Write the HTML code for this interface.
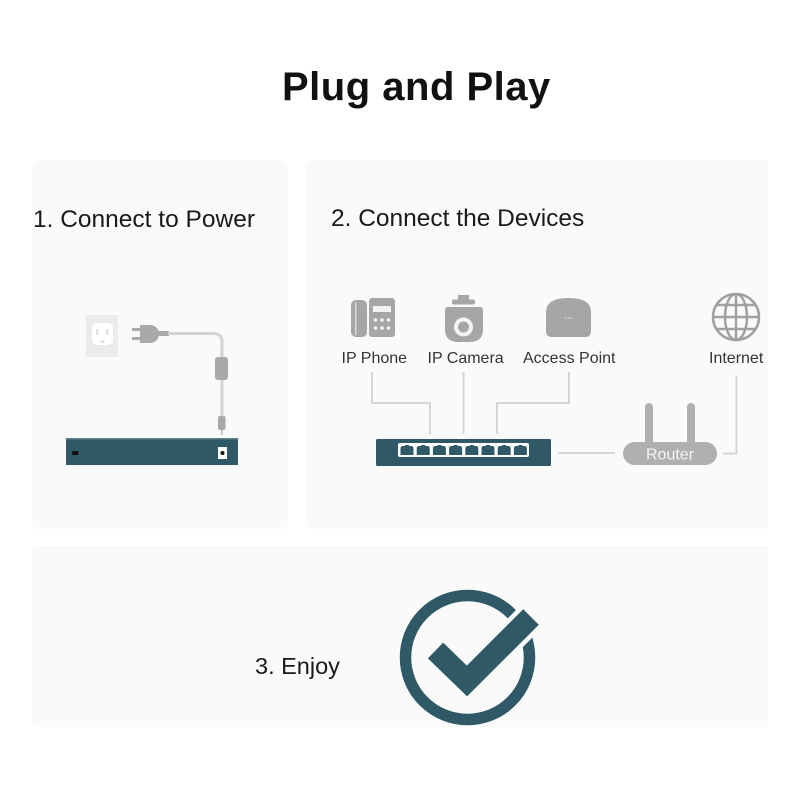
<!DOCTYPE html>
<html>
<head>
<meta charset="utf-8">
<style>
  html, body { margin: 0; padding: 0; background: #ffffff; }
  body { width: 800px; height: 800px; overflow: hidden; }
  svg { display: block; }
  text { font-family: "Liberation Sans", sans-serif; }
</style>
</head>
<body>
<svg width="800" height="800" viewBox="0 0 800 800" xmlns="http://www.w3.org/2000/svg">
  <rect x="0" y="0" width="800" height="800" fill="#ffffff"/>

  <!-- Title -->
  <text x="282" y="100" font-size="40" font-weight="bold" fill="#111" letter-spacing="0.5">Plug and Play</text>

  <!-- Panels -->
  <rect x="32" y="160" width="256" height="369" rx="8" fill="#fafafa"/>
  <rect x="305" y="160" width="470" height="369" rx="8" fill="#fafafa"/>
  <rect x="32" y="546" width="743" height="181" rx="4" fill="#fafafa"/>
  <rect x="768" y="150" width="40" height="600" fill="#ffffff"/>

  <!-- Step labels -->
  <text x="33" y="227" font-size="24.5" fill="#1a1a1a">1. Connect to Power</text>
  <text x="331" y="226" font-size="24.5" fill="#1a1a1a">2. Connect the Devices</text>
  <text x="255" y="674" font-size="23.5" fill="#1a1a1a">3. Enjoy</text>

  <!-- ===== Panel 1: power ===== -->
  <rect x="86" y="315" width="32" height="42" fill="#ebebeb"/>
  <rect x="92" y="323" width="21" height="22" rx="5" fill="#ffffff"/>
  <rect x="96" y="329" width="2.5" height="6" fill="#e2e2e2"/>
  <rect x="106" y="329" width="2.5" height="6" fill="#e2e2e2"/>
  <path d="M100.5 342 a2 2 0 0 1 4 0 v1 h-4 z" fill="#e2e2e2"/>
  <rect x="132" y="328" width="10" height="3" fill="#a9a9a9"/>
  <rect x="132" y="337" width="10" height="3" fill="#a9a9a9"/>
  <path d="M140 325 H150 A9 9 0 0 1 150 343 H140 Z" fill="#a9a9a9"/>
  <rect x="155" y="331" width="14" height="5" fill="#a9a9a9"/>
  <path d="M168 333.5 H213 Q222 333.5 222 342 V360" fill="none" stroke="#d3d3d3" stroke-width="3"/>
  <rect x="215" y="357" width="13" height="23" rx="3" fill="#a9a9a9"/>
  <path d="M222 380 V418" fill="none" stroke="#d3d3d3" stroke-width="3"/>
  <rect x="218" y="416" width="7.5" height="14" rx="2" fill="#a9a9a9"/>
  <rect x="221" y="430" width="2" height="5" fill="#c8c8c8"/>
  <rect x="66" y="438" width="172" height="27" fill="#2f5966"/>
  <rect x="66" y="438" width="172" height="1.5" fill="#5e808b"/>
  <rect x="72" y="451" width="6.5" height="4" rx="1" fill="#111"/>
  <rect x="218" y="447" width="9" height="12" fill="#ffffff"/>
  <circle cx="222.5" cy="453" r="2" fill="#111"/>

  <!-- ===== Panel 2: devices ===== -->
  <g fill="none" stroke="#d6d6d6" stroke-width="2">
    <path d="M372 372 V403 H430 V434"/>
    <path d="M463.5 372 V434"/>
    <path d="M569 372 V403 H497 V434"/>
    <path d="M558 453 H615"/>
    <path d="M723 453.5 H736.5 V376"/>
  </g>

  <!-- IP Phone icon -->
  <rect x="351" y="300" width="16" height="37" rx="5" fill="#a6a6a6"/>
  <rect x="355" y="302" width="1.5" height="33" fill="#d8d8d8"/>
  <rect x="369" y="298" width="26" height="39" rx="3" fill="#a6a6a6"/>
  <rect x="373" y="306" width="18" height="6" fill="#f3f3f3"/>
  <g fill="#f3f3f3">
    <circle cx="375.5" cy="320" r="1.8"/><circle cx="382" cy="320" r="1.8"/><circle cx="388.5" cy="320" r="1.8"/>
    <circle cx="375.5" cy="328" r="1.8"/><circle cx="382" cy="328" r="1.8"/><circle cx="388.5" cy="328" r="1.8"/>
  </g>

  <!-- IP Camera icon -->
  <rect x="458" y="295" width="11" height="6" fill="#a6a6a6"/>
  <rect x="452" y="299.5" width="23" height="5" rx="2" fill="#a6a6a6"/>
  <path d="M448 307 H480 Q483 307 483 310 V329 Q483 342 470 342 H458 Q445 342 445 329 V310 Q445 307 448 307 Z" fill="#a6a6a6"/>
  <circle cx="463.5" cy="327" r="9.5" fill="#f3f3f3"/>
  <circle cx="463.5" cy="327" r="5.5" fill="#a6a6a6"/>

  <!-- Access Point icon -->
  <path d="M546 312 Q546 298 568.5 298 Q591 298 591 312 V331 Q591 337 585 337 H552 Q546 337 546 331 Z" fill="#a6a6a6"/>
  <text x="568.5" y="319" font-size="3" fill="#e6e6e6" text-anchor="middle">tp-link</text>

  <!-- Globe icon -->
  <g fill="none" stroke="#a0a0a0" stroke-width="2.5">
    <circle cx="736" cy="317" r="23"/>
    <ellipse cx="736" cy="317" rx="11" ry="23"/>
    <line x1="736" y1="294" x2="736" y2="340"/>
    <line x1="713" y1="317" x2="759" y2="317"/>
    <line x1="717" y1="305" x2="755" y2="305"/>
    <line x1="717" y1="329" x2="755" y2="329"/>
  </g>

  <g font-size="16" fill="#333">
    <text x="341.5" y="363">IP Phone</text>
    <text x="427.5" y="363">IP Camera</text>
    <text x="523" y="363">Access Point</text>
    <text x="709" y="363">Internet</text>
  </g>

  <!-- Switch (front) -->
  <rect x="376" y="439" width="175" height="27" rx="1.5" fill="#2f5966"/>
  <rect x="398" y="443" width="131" height="14" rx="2" fill="#ffffff"/>
  <g fill="#2f5966">
    <path d="M400.5 455 V448.5 Q400.5 446 403 446 H405 V445 H409 V446 H411 Q413.5 446 413.5 448.5 V455 Z"/>
    <path d="M416.7 455 V448.5 Q416.7 446 419.2 446 H421.2 V445 H425.2 V446 H427.2 Q429.7 446 429.7 448.5 V455 Z"/>
    <path d="M432.9 455 V448.5 Q432.9 446 435.4 446 H437.4 V445 H441.4 V446 H443.4 Q445.9 446 445.9 448.5 V455 Z"/>
    <path d="M449.1 455 V448.5 Q449.1 446 451.6 446 H453.6 V445 H457.6 V446 H459.6 Q462.1 446 462.1 448.5 V455 Z"/>
    <path d="M465.3 455 V448.5 Q465.3 446 467.8 446 H469.8 V445 H473.8 V446 H475.8 Q478.3 446 478.3 448.5 V455 Z"/>
    <path d="M481.5 455 V448.5 Q481.5 446 484 446 H486 V445 H490 V446 H492 Q494.5 446 494.5 448.5 V455 Z"/>
    <path d="M497.7 455 V448.5 Q497.7 446 500.2 446 H502.2 V445 H506.2 V446 H508.2 Q510.7 446 510.7 448.5 V455 Z"/>
    <path d="M513.9 455 V448.5 Q513.9 446 516.4 446 H518.4 V445 H522.4 V446 H524.4 Q526.9 446 526.9 448.5 V455 Z"/>
  </g>

  <!-- Router -->
  <rect x="645" y="403" width="8" height="44" rx="4" fill="#b0b0b0"/>
  <rect x="687" y="403" width="8" height="44" rx="4" fill="#b0b0b0"/>
  <rect x="623" y="442" width="94" height="23" rx="11.5" fill="#b0b0b0"/>
  <text x="670" y="459.5" font-size="16" fill="#f4f4f4" text-anchor="middle">Router</text>

  <!-- ===== Panel 3: check ===== -->
  <circle cx="467.5" cy="657.5" r="62" fill="none" stroke="#2f5966" stroke-width="11.5"/>
  <polyline points="435.5,650.5 467,681 531,617" fill="none" stroke="#fafafa" stroke-width="31" stroke-linejoin="miter"/>
  <polyline points="435.5,650.5 467,681 531,617" fill="none" stroke="#2f5966" stroke-width="22" stroke-linejoin="miter"/>
</svg>
</body>
</html>
